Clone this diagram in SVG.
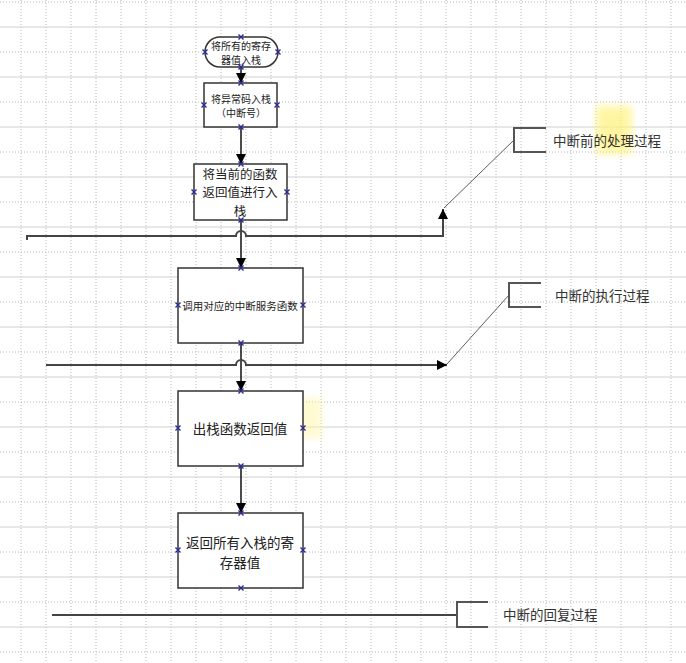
<svg xmlns="http://www.w3.org/2000/svg" xmlns:xlink="http://www.w3.org/1999/xlink" width="686" height="663" viewBox="0 0 686 663">
<style>
.gd{stroke:#b8b8b8;stroke-width:1;stroke-dasharray:1,2;fill:none}
.gs{stroke:#d0d0d0;stroke-width:1;fill:none}
.box{fill:#fff;stroke:#333;stroke-width:1.5}
.t{font-family:"Noto Sans CJK SC","Noto Sans",sans-serif;fill:#222;text-anchor:middle;dominant-baseline:central}
.lab{font-family:"Noto Sans CJK SC","Noto Sans",sans-serif;fill:#333;font-size:13.5px;dominant-baseline:central}
.con{stroke:#111;stroke-width:1.5;fill:none}
.hl{stroke:#444;stroke-width:2;fill:none}
.thin{stroke:#333;stroke-width:0.8;fill:none}
.br{stroke:#555;stroke-width:2;fill:none}
.mk{stroke:#2a2a9a;stroke-width:1.4}
</style>
<defs>
<marker id="ah" viewBox="0 0 10 10" refX="10" refY="5" markerWidth="10" markerHeight="10" markerUnits="userSpaceOnUse" orient="auto">
<path d="M0,0 L10,5 L0,10 Z" fill="#000"/>
</marker>
<g id="x"><path class="mk" d="M-2.5,-2.5 L2.5,2.5 M-2.5,2.5 L2.5,-2.5"/></g>
<filter id="blur"><feGaussianBlur stdDeviation="4"/></filter>
</defs>
<rect width="686" height="663" fill="#fff"/>
<g id="grid">
<path class="gd" d="M21,0V663 M71,0V663 M121,0V663 M171,0V663 M221,0V663 M271,0V663 M321,0V663 M371,0V663 M421,0V663 M471,0V663 M521,0V663 M571,0V663 M621,0V663 M671,0V663"/>
<path class="gd" d="M46,0V663 M96,0V663 M146,0V663 M196,0V663 M246,0V663 M296,0V663 M346,0V663 M396,0V663 M446,0V663 M496,0V663 M546,0V663 M596,0V663 M646,0V663"/>
<path class="gd" d="M0,2H686 M0,52H686 M0,102H686 M0,152H686 M0,202H686 M0,252H686 M0,302H686 M0,352H686 M0,402H686 M0,452H686 M0,502H686 M0,552H686 M0,602H686 M0,652H686"/>
<path class="gs" d="M0,27H686 M0,77H686 M0,127H686 M0,177H686 M0,227H686 M0,277H686 M0,327H686 M0,377H686 M0,427H686 M0,477H686 M0,527H686 M0,577H686 M0,627H686"/>
</g>
<rect x="596" y="106" width="36" height="48" fill="#fff27a" opacity="0.7" filter="url(#blur)"/>
<rect x="298" y="398" width="24" height="40" fill="#fff6a0" opacity="0.5" filter="url(#blur)"/>
<g id="connectors">
<path class="con" d="M241,67V83" marker-end="url(#ah)"/>
<path class="con" d="M241,127V164" marker-end="url(#ah)"/>
<path class="con" d="M241,220V268" marker-end="url(#ah)"/>
<path class="con" d="M241,343V391" marker-end="url(#ah)"/>
<path class="con" d="M241,466V513" marker-end="url(#ah)"/>
<path class="hl" d="M27,240V236H236A5,5 0 0 1 246,236H443V209" marker-end="url(#ah)"/>
<path class="hl" d="M46,365H236A5,5 0 0 1 246,365H447" marker-end="url(#ah)"/>
<path class="hl" d="M52,615H457"/>
<path class="thin" d="M514,140L444,208"/>
<path class="thin" d="M509,295L447,364"/>
</g>
<g id="n1">
<rect class="box" x="205" y="37" width="73" height="30" rx="15" ry="15"/>
<text class="t" font-size="10" x="241" y="45">将所有的寄存</text>
<text class="t" font-size="10" x="241" y="59">器值入栈</text>
</g>
<g id="n2">
<rect class="box" x="204" y="83" width="73" height="44"/>
<text class="t" font-size="10" x="241" y="98">将异常码入栈</text>
<text class="t" font-size="10" x="241" y="112">（中断号）</text>
</g>
<g id="n3">
<rect class="box" x="194" y="164" width="93" height="56"/>
<text class="t" font-size="12.5" x="240" y="173">将当前的函数</text>
<text class="t" font-size="12.5" x="240" y="191.5">返回值进行入</text>
<text class="t" font-size="12.5" x="240" y="210">栈</text>
</g>
<g id="n4">
<rect class="box" x="178" y="268" width="125" height="75"/>
<text class="t" font-size="10.5" x="240" y="305">调用对应的中断服务函数</text>
</g>
<g id="n5">
<rect class="box" x="178" y="391" width="125" height="75"/>
<text class="t" font-size="13.5" x="240" y="428">出栈函数返回值</text>
</g>
<g id="n6">
<rect class="box" x="178" y="513" width="125" height="75"/>
<text class="t" font-size="13.5" x="240" y="542">返回所有入栈的寄</text>
<text class="t" font-size="13.5" x="240" y="562">存器值</text>
</g>
<g id="markers">
<use href="#x" x="241" y="37"/><use href="#x" x="241" y="67"/><use href="#x" x="205" y="52"/><use href="#x" x="278" y="52"/>
<use href="#x" x="241" y="83"/><use href="#x" x="241" y="127"/><use href="#x" x="204" y="105"/><use href="#x" x="277" y="105"/>
<use href="#x" x="241" y="164"/><use href="#x" x="241" y="220"/><use href="#x" x="194" y="192"/><use href="#x" x="287" y="192"/>
<use href="#x" x="241" y="268"/><use href="#x" x="241" y="343"/><use href="#x" x="178" y="305"/><use href="#x" x="303" y="305"/>
<use href="#x" x="241" y="391"/><use href="#x" x="241" y="466"/><use href="#x" x="178" y="428"/><use href="#x" x="303" y="428"/>
<use href="#x" x="241" y="513"/><use href="#x" x="241" y="588"/><use href="#x" x="178" y="550"/><use href="#x" x="303" y="550"/>
</g>
<g id="a1">
<path class="br" d="M546,128H514V152H546"/>
<text class="lab" x="553" y="140">中断前的处理过程</text>
</g>
<g id="a2">
<path class="br" d="M541,283H509V307H541"/>
<text class="lab" x="555" y="295">中断的执行过程</text>
</g>
<g id="a3">
<path class="br" d="M488,602H457V627H488"/>
<text class="lab" x="503" y="614">中断的回复过程</text>
</g>
</svg>
